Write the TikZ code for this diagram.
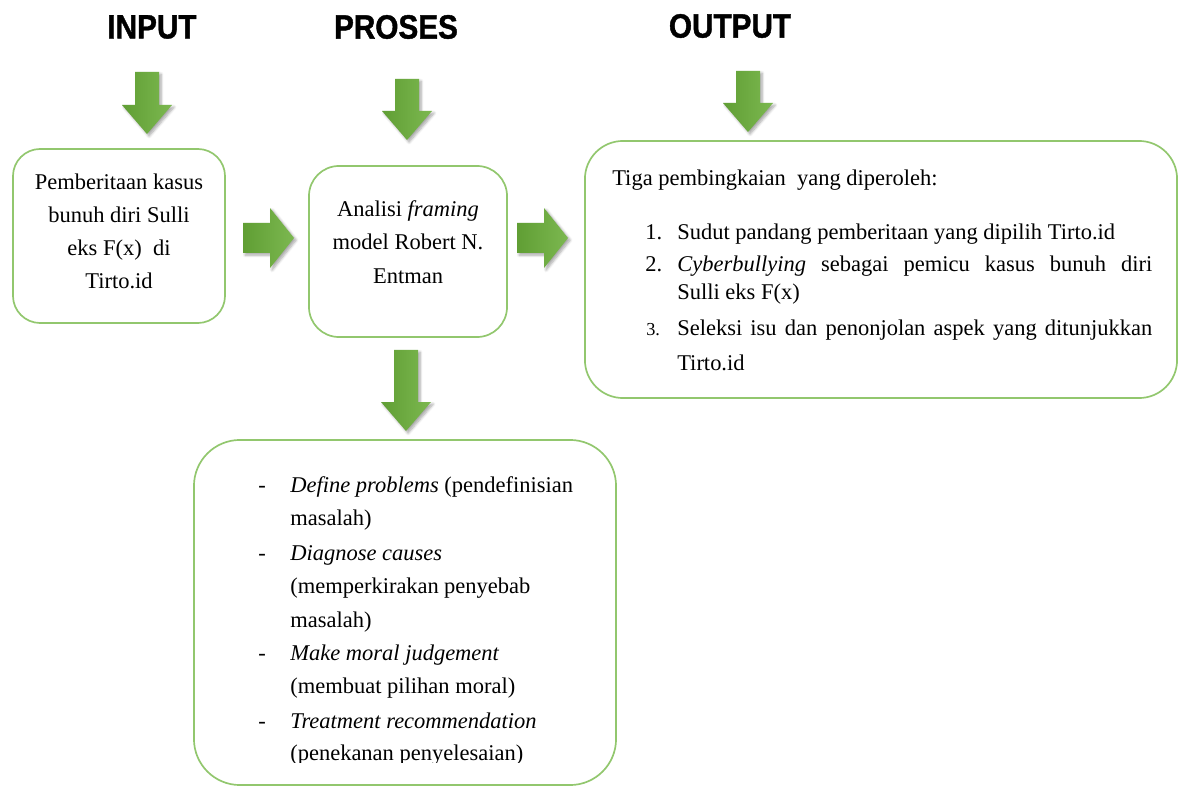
\documentclass[tikz,border=0pt]{standalone}
\usepackage{fontspec}
\setmainfont{Liberation Serif}
\newfontfamily\headfont{Liberation Sans}[FakeStretch=0.88,FakeBold=1.2]
\usetikzlibrary{shadows.blur}

\definecolor{boxgreen}{RGB}{146,199,110}
\definecolor{arrowdark}{RGB}{96,158,52}
\definecolor{arrowlight}{RGB}{124,184,80}

\tikzset{
  box/.style={draw=boxgreen, line width=1.2pt, fill=white},
  heading/.style={font=\headfont\bfseries\fontsize{24pt}{28pt}\selectfont},
  boxtext/.style={align=center, inner sep=0pt, font=\fontsize{16pt}{23.5pt}\selectfont},
  item/.style={anchor=base west, inner sep=0pt, font=\fontsize{16pt}{20pt}\selectfont},
  greenfill/.style={left color=arrowdark, right color=arrowlight,
    blur shadow={shadow xshift=1.5pt, shadow yshift=-1.5pt, shadow blur steps=6, shadow opacity=35}},
  pics/downarrow/.style={code={
    \path[greenfill] (-12,0) -- (12,0) -- (12,#1) -- (25,#1) -- (0,#1+29)
      -- (-25,#1) -- (-12,#1) -- cycle;}},
  pics/rightarrow/.style={code={
    \path[greenfill] (0,-15) -- (27,-15) -- (27,-30) -- (51,0) -- (27,30)
      -- (27,15) -- (0,15) -- cycle;}},
}

\begin{document}
\begin{tikzpicture}[x=0.025cm,y=-0.025cm]
  \useasboundingbox (0,0) rectangle (1178,787);

  % column headings
  \node[heading] (input)  at (152,27) {INPUT};
  \node[heading] (proses) at (396,27) {PROSES};
  \node[heading] (output) at (730,26) {OUTPUT};

  % block arrows
  \pic (inarrow)   at (147,72)  {downarrow=33};
  \pic (prosarrow) at (407,79)  {downarrow=32};
  \pic (outarrow)  at (748,71)  {downarrow=32};
  \pic (subarrow)  at (406,350) {downarrow=52};
  \pic (toproses)  at (243,238) {rightarrow};
  \pic (tooutput)  at (517,238) {rightarrow};

  % input
  \node[box, minimum width=5.3cm, minimum height=4.35cm, rounded corners=0.68cm] (pemberitaan) at (119,236) {};
  \node[boxtext] (pemberitaantext) at (119,231)
    {Pemberitaan kasus\\bunuh diri Sulli\\eks F(x)~ di\\Tirto.id};

  % proses
  \node[box, minimum width=4.95cm, minimum height=4.275cm, rounded corners=0.75cm] (analisis) at (408,251.5) {};
  \node[boxtext, font=\fontsize{16pt}{24pt}\selectfont] (analisistext) at (408,242)
    {Analisi \textit{framing}\\model Robert N.\\Entman};

  % output
  \node[box, minimum width=14.8cm, minimum height=6.425cm, rounded corners=0.95cm] (hasil) at (881,269.5) {};
  \node[item] (hasiljudul) at (612,186) {Tiga pembingkaian\ \ yang diperoleh:};
  \node[item] (num1) at (645,240) {1.};
  \node[item] (hasil1) at (677,240) {Sudut pandang pemberitaan yang dipilih Tirto.id};
  \node[item] (num2) at (645,272) {2.};
  \node[item] (hasil2) at (677,272) {\makebox[11.875cm][s]{\textit{Cyberbullying} sebagai pemicu kasus bunuh diri}};
  \node[item] (hasil2b) at (677,300) {Sulli eks F(x)};
  \node[item, font=\fontsize{13pt}{16pt}\selectfont] (num3) at (646,335) {3.};
  \node[item] (hasil3) at (677,335) {\makebox[11.875cm][s]{Seleksi isu dan penonjolan aspek yang ditunjukkan}};
  \node[item] (hasil3b) at (677,371) {Tirto.id};

  % Entman framing elements
  \node[box, minimum width=10.55cm, minimum height=8.625cm, rounded corners=1.15cm] (elemen) at (405,612.5) {};
  \foreach \y in {492,560,660,728}
    \node[item] (dash\y) at (258,\y) {-};
  \node[item] (elemen1)  at (290,492) {\textit{Define problems} (pendefinisian};
  \node[item] (elemen1b) at (290,525) {masalah)};
  \node[item] (elemen2)  at (290,560) {\textit{Diagnose causes}};
  \node[item] (elemen2b) at (290,593) {\makebox[6cm][s]{(memperkirakan penyebab}};
  \node[item] (elemen2c) at (290,627) {masalah)};
  \node[item] (elemen3)  at (290,660) {\textit{Make moral judgement}};
  \node[item] (elemen3b) at (290,693) {(membuat pilihan moral)};
  \node[item] (elemen4)  at (290,728) {\textit{Treatment recommendation}};
  \begin{scope}
    \clip (200,440) rectangle (610,762);
    \node[item] (elemen4b) at (290,760) {(penekanan penyelesaian)};
  \end{scope}

\end{tikzpicture}
\end{document}
